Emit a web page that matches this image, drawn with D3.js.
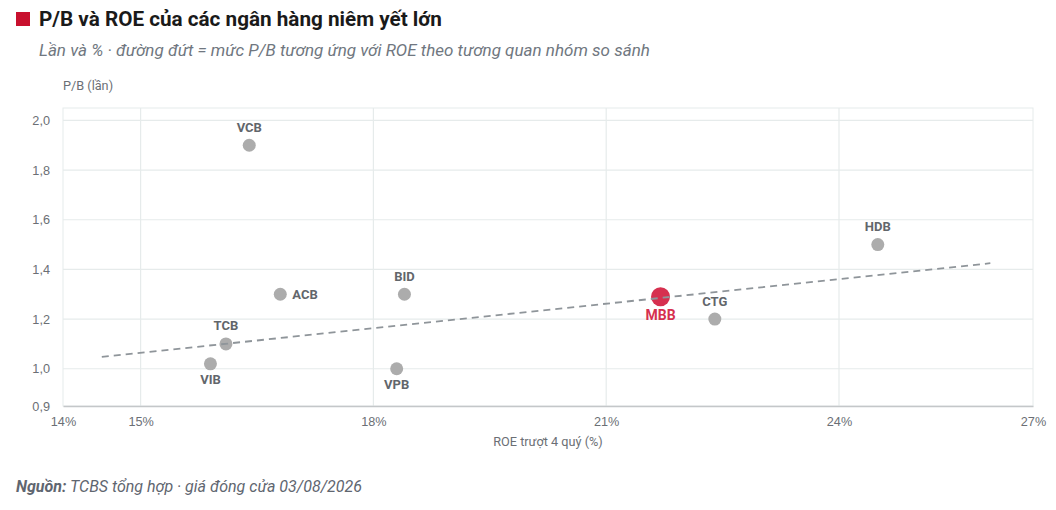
<!DOCTYPE html>
<html lang="vi">
<head>
  <meta charset="UTF-8">
  <title>P/B và ROE của các ngân hàng niêm yết lớn</title>
  <style>
    body { margin: 0; background: #fff; font-family: Roboto, "Noto Sans", sans-serif; }
    .title { font-weight: 700; font-size: 20.7px; fill: #1a1a1a; }
    .subtitle { font-style: italic; font-size: 17px; fill: #707780; }
    .tick-label { font-size: 12.7px; fill: #6b6f75; }
    .bank-label { font-size: 13px; font-weight: 700; fill: #62666b; }
    .source { font-style: italic; font-size: 16px; fill: #5f6670; }
  </style>
  <script src="https://d3js.org/d3.v7.min.js"></script>
</head>
<body>
  <div id="chart"></div>

  <script>
    // ---- data ----
    const banks = ["VCB", "ACB", "BID", "TCB", "VIB", "VPB", "MBB", "CTG", "HDB"];
    const roe   = [16.4, 16.8, 18.4, 16.1, 15.9, 18.3, 21.7, 22.4, 24.5];
    const pb    = [1.90, 1.30, 1.30, 1.10, 1.02, 1.00, 1.29, 1.20, 1.50];
    const labelSide = ["top", "right", "top", "top", "bottom", "bottom", "bottom", "top", "top"];
    const highlight = "MBB";

    // dashed line: P/B implied by ROE from the peer-group relation
    const fairRoe = [14.5, 25.95];
    const fairPb  = [1.048, 1.425];

    const xDomain = [14, 26.5];
    const yDomain = [0.85, 2.05];
    const xTicks = [14, 15, 18, 21, 24, 26.5];
    const xGrid  = [15, 18, 21, 24];
    const yTicks = [0.85, 1.0, 1.2, 1.4, 1.6, 1.8, 2.0];
    const yGrid  = [1.0, 1.2, 1.4, 1.6, 1.8, 2.0];

    // ---- layout ----
    const width = 1056, height = 510;
    const margin = { top: 108, right: 23, bottom: 104, left: 63 };

    const vi = d3.formatLocale({ decimal: ",", thousands: ".", grouping: [3], currency: ["", ""] });
    const fmtY = d => vi.format(".1f")(Math.round(d * 10 + 1e-9) / 10);
    const fmtX = d => Math.round(d + 1e-9) + "%";

    const x = d3.scaleLinear().domain(xDomain).range([margin.left, width - margin.right]);
    const y = d3.scaleLinear().domain(yDomain).range([height - margin.bottom, margin.top]);

    const svg = d3.select("#chart").append("svg")
        .attr("width", width)
        .attr("height", height);

    // title block
    svg.append("rect")
        .attr("x", 16).attr("y", 12)
        .attr("width", 14).attr("height", 14)
        .attr("fill", "#c8102e");
    svg.append("text").attr("class", "title")
        .attr("x", 39).attr("y", 26)
        .text("P/B và ROE của các ngân hàng niêm yết lớn");
    svg.append("text").attr("class", "subtitle")
        .attr("x", 39).attr("y", 56)
        .text("Lần và % · đường đứt = mức P/B tương ứng với ROE theo tương quan nhóm so sánh");

    svg.append("text").attr("class", "tick-label")
        .attr("x", margin.left).attr("y", 90)
        .text("P/B (lần)");

    // plot frame
    svg.append("rect")
        .attr("x", x(xDomain[0])).attr("y", y(yDomain[1]))
        .attr("width", x(xDomain[1]) - x(xDomain[0]))
        .attr("height", y(yDomain[0]) - y(yDomain[1]))
        .attr("fill", "none")
        .attr("stroke", "#e6ebeb");

    // grid
    svg.append("g").selectAll("line")
      .data(yGrid)
      .join("line")
        .attr("x1", x(xDomain[0])).attr("x2", x(xDomain[1]))
        .attr("y1", d => y(d)).attr("y2", d => y(d))
        .attr("stroke", "#e6ebeb").attr("stroke-width", 1.2);

    svg.append("g").selectAll("line")
      .data(xGrid)
      .join("line")
        .attr("x1", d => x(d)).attr("x2", d => x(d))
        .attr("y1", y(yDomain[0])).attr("y2", y(yDomain[1]))
        .attr("stroke", "#e6ebeb").attr("stroke-width", 1.2);

    // axes
    const xAxis = svg.append("g")
        .attr("transform", `translate(0,${y(yDomain[0])})`)
        .call(d3.axisBottom(x).tickValues(xTicks).tickFormat(fmtX).tickSize(0).tickPadding(11));
    xAxis.select(".domain").attr("stroke", "#c4c7c9").attr("stroke-width", 1.3);
    xAxis.selectAll("text").attr("class", "tick-label").attr("font-family", null).attr("font-size", null);

    const yAxis = svg.append("g")
        .attr("transform", `translate(${margin.left},0)`)
        .call(d3.axisLeft(y).tickValues(yTicks).tickFormat(fmtY).tickSize(0).tickPadding(13));
    yAxis.select(".domain").remove();
    yAxis.selectAll("text").attr("class", "tick-label").attr("font-family", null).attr("font-size", null);

    svg.append("text").attr("class", "tick-label")
        .attr("x", (x(xDomain[0]) + x(xDomain[1])) / 2)
        .attr("y", 446)
        .attr("text-anchor", "middle")
        .text("ROE trượt 4 quý (%)");

    // points
    const pts = banks.map((b, i) => ({ name: b, roe: roe[i], pb: pb[i], side: labelSide[i] }));

    svg.append("g").selectAll("circle")
      .data(pts)
      .join("circle")
        .attr("cx", d => x(d.roe))
        .attr("cy", d => y(d.pb))
        .attr("r", d => d.name === highlight ? 9.5 : 6.5)
        .attr("fill", d => d.name === highlight ? "#d6304f" : "#acacac");

    // fair-value line (drawn over the dots)
    const line = d3.line().x(d => x(d[0])).y(d => y(d[1]));
    svg.append("path")
        .datum(fairRoe.map((r, i) => [r, fairPb[i]]))
        .attr("d", line)
        .attr("fill", "none")
        .attr("stroke", "#8f959a")
        .attr("stroke-width", 1.8)
        .attr("stroke-dasharray", "7,5");

    svg.append("g").selectAll("text")
      .data(pts)
      .join("text")
        .attr("class", "bank-label")
        .attr("x", d => x(d.roe) + (d.side === "right" ? 12 : 0))
        .attr("y", d => {
          const r = d.name === highlight ? 9.5 : 6.5;
          if (d.side === "top") return y(d.pb) - r - 7;
          if (d.side === "bottom") return y(d.pb) + r + 14;
          return y(d.pb) + 4.5;
        })
        .attr("text-anchor", d => d.side === "right" ? "start" : "middle")
        .style("fill", d => d.name === highlight ? "#d6304f" : null)
        .style("font-size", d => d.name === highlight ? "14px" : null)
        .text(d => d.name);

    // source
    const src = svg.append("text").attr("class", "source")
        .attr("x", 16).attr("y", 492);
    src.append("tspan").attr("font-weight", 700).text("Nguồn:");
    src.append("tspan").text(" TCBS tổng hợp · giá đóng cửa 03/08/2026");
  </script>
</body>
</html>
